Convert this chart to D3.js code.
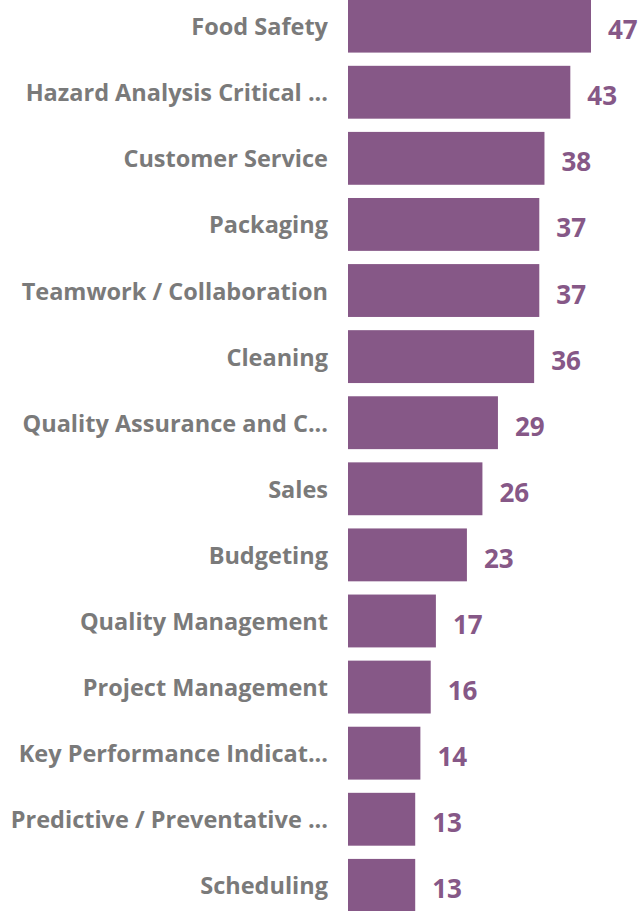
<!DOCTYPE html>
<html>
<head>
<meta charset="utf-8">
<script src="https://cdn.jsdelivr.net/npm/d3@7"></script>
<style>
  body { margin: 0; background: #fff; }
  svg { display: block; }
</style>
</head>
<body>
<div id="chart"></div>
<script>
var skills = [
    'Food Safety',
    'Hazard Analysis Critical ...',
    'Customer Service',
    'Packaging',
    'Teamwork / Collaboration',
    'Cleaning',
    'Quality Assurance and C...',
    'Sales',
    'Budgeting',
    'Quality Management',
    'Project Management',
    'Key Performance Indicat...',
    'Predictive / Preventative ...',
    'Scheduling'
];
var counts = [47, 43, 38, 37, 37, 36, 29, 26, 23, 17, 16, 14, 13, 13];

var width = 642, height = 911;
var BAR_COLOR = '#865887';
var FONT = '"Open Sans", "Noto Sans", sans-serif';

var svg = d3.select('#chart').append('svg')
            .attr('width', width).attr('height', height);

var x = d3.scaleLinear().domain([0, 47]).range([348, 591]);
var y = d3.scaleBand().domain(skills).range([-13.5, 925]).padding(0.2);

var rows = svg.append('g').attr('id', 'bars')
    .selectAll('g').data(skills).enter()
    .append('g');

rows.append('rect')
    .attr('x', x(0))
    .attr('y', function(d) { return y(d); })
    .attr('width', function(d, i) { return x(counts[i]) - x(0); })
    .attr('height', y.bandwidth())
    .attr('fill', BAR_COLOR);

// category labels, right aligned against the bars
rows.append('text')
    .text(function(d) { return d; })
    .attr('x', 328)
    .attr('y', function(d) { return y(d) + y.bandwidth() / 2 + 9; })
    .attr('text-anchor', 'end')
    .attr('font-family', FONT)
    .attr('font-weight', 'bold')
    .attr('font-size', 23.5)
    .attr('fill', '#7a7a7a');

// value labels
rows.append('text')
    .text(function(d, i) { return counts[i]; })
    .attr('x', function(d, i) { return x(counts[i]) + 17; })
    .attr('y', function(d) { return y(d) + y.bandwidth() / 2 + 13; })
    .attr('font-family', FONT)
    .attr('font-weight', 'bold')
    .attr('font-size', 26)
    .attr('fill', BAR_COLOR);
</script>
</body>
</html>
